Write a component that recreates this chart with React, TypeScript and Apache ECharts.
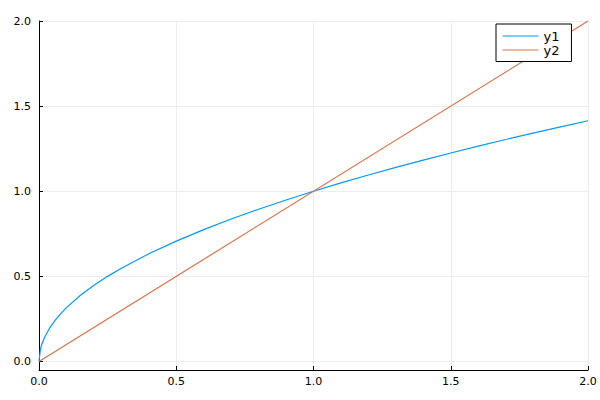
import React, { useEffect, useRef } from "react";
import * as echarts from "echarts";

const xValues = [0, 0.005, 0.01, 0.02, 0.04, 0.06, 0.08, 0.1, 0.15, 0.2, 0.25, 0.3, 0.4, 0.5, 0.6, 0.7, 0.8, 0.9, 1.0, 1.1, 1.2, 1.3, 1.4, 1.5, 1.6, 1.7, 1.8, 1.9, 2.0];
const y1Values = [0, 0.0707, 0.1, 0.1414, 0.2, 0.2449, 0.2828, 0.3162, 0.3873, 0.4472, 0.5, 0.5477, 0.6325, 0.7071, 0.7746, 0.8367, 0.8944, 0.9487, 1.0, 1.0488, 1.0954, 1.1402, 1.1832, 1.2247, 1.2649, 1.3038, 1.3416, 1.3784, 1.4142];
const y2X = [0, 2];
const y2Values = [0, 2];
const seriesNames = ["y1", "y2"];
const seriesColors = ["#009AFA", "#E26F46"];

export default function App() {
  const ref = useRef<HTMLDivElement>(null);
  useEffect(() => {
    if (!ref.current) return;
    const chart = echarts.init(ref.current, null, { renderer: "svg" });
    const font = "DejaVu Sans";
    chart.setOption({
      animation: false,
      backgroundColor: "#ffffff",
      textStyle: { fontFamily: font },
      grid: { left: 39, right: 12, top: 21, bottom: 30, containLabel: false },
      legend: {
        orient: "vertical",
        left: 496,
        top: 24,
        backgroundColor: "#ffffff",
        borderColor: "#000000",
        borderWidth: 1,
        padding: [5.5, 12, 5, 6],
        itemGap: 1,
        itemWidth: 36,
        itemHeight: 14,
        itemStyle: { opacity: 0 },
        lineStyle: { width: 1 },
        textStyle: { fontFamily: font, fontSize: 13, color: "#000" },
        data: seriesNames,
      },
      xAxis: {
        type: "value",
        min: 0,
        max: 2,
        interval: 0.5,
        axisLine: { show: true, onZero: false, lineStyle: { color: "#000", width: 1 } },
        axisTick: { show: true, inside: true, length: 4, lineStyle: { color: "#000" } },
        axisLabel: { fontFamily: font, fontSize: 11, color: "#000", margin: 6, formatter: (v: number) => v.toFixed(1) },
        splitLine: { show: true, lineStyle: { color: "#ededed", width: 1 } },
      },
      yAxis: {
        type: "value",
        min: -0.05,
        max: 2,
        axisLine: { show: true, onZero: false, lineStyle: { color: "#000", width: 1 } },
        axisTick: { show: true, inside: true, length: 4, lineStyle: { color: "#000" } },
        axisLabel: {
          fontFamily: font,
          fontSize: 11,
          color: "#000",
          margin: 8,
          formatter: (v: number) => (Math.abs(v / 0.5 - Math.round(v / 0.5)) < 1e-6 ? v.toFixed(1) : ""),
        },
        splitLine: { show: true, lineStyle: { color: "#ededed", width: 1 } },
      },
      series: [
        {
          name: seriesNames[0],
          type: "line",
          symbol: "none",
          data: xValues.map((x, i) => [x, y1Values[i]]),
          lineStyle: { color: seriesColors[0], width: 1.2 },
          itemStyle: { color: seriesColors[0] },
        },
        {
          name: seriesNames[1],
          type: "line",
          symbol: "none",
          data: y2X.map((x, i) => [x, y2Values[i]]),
          lineStyle: { color: seriesColors[1], width: 1.2 },
          itemStyle: { color: seriesColors[1] },
        },
      ],
    });
    return () => chart.dispose();
  }, []);
  return <div ref={ref} style={{ width: 600, height: 400, position: "absolute", left: 0, top: 0 }} />;
}
